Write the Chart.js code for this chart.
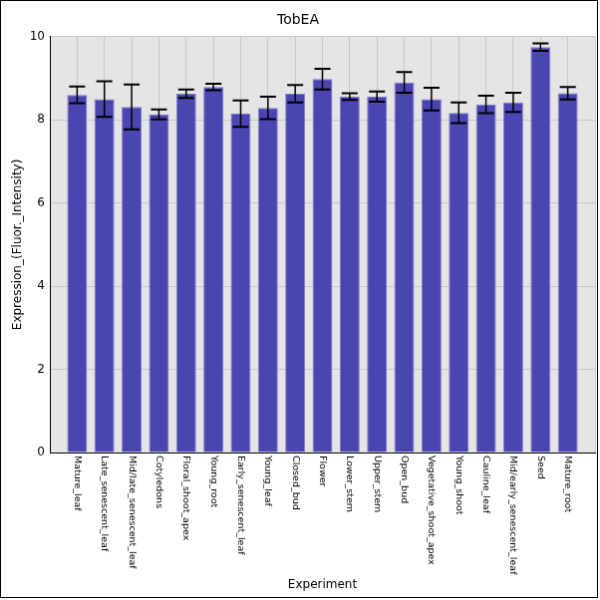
<!DOCTYPE html>
<html>
<head>
<meta charset="utf-8">
<script src="https://cdn.jsdelivr.net/npm/chart.js@4"></script>
<style>
  body { margin: 0; background: #fff; }
  canvas { border: 1px solid #000; display: block; }
</style>
</head>
<body>
<canvas id="tobChart" width="598" height="598"></canvas>
<script>
// data
const experiments = ['Mature_leaf', 'Late_senescent_leaf', 'Mid/late_senescent_leaf', 'Cotyledons',
  'Floral_shoot_apex', 'Young_root', 'Early_senescent_leaf', 'Young_leaf', 'Closed_bud', 'Flower',
  'Lower_stem', 'Upper_stem', 'Open_bud', 'Vegetative_shoot_apex', 'Young_shoot', 'Cauline_leaf',
  'Mid/early_senescent_leaf', 'Seed', 'Mature_root'];
const expression = [8.60, 8.50, 8.31, 8.13, 8.63, 8.79, 8.15, 8.29, 8.63, 8.98,
  8.56, 8.56, 8.90, 8.50, 8.17, 8.37, 8.42, 9.75, 8.64];
const errors = [0.20, 0.43, 0.54, 0.12, 0.10, 0.08, 0.32, 0.27, 0.21, 0.25,
  0.08, 0.12, 0.25, 0.27, 0.25, 0.21, 0.23, 0.09, 0.15];
const yTicks = [0, 2, 4, 6, 8, 10];

// one empty slot on each side, like the original plot
const labels = [''].concat(experiments, ['']);
const values = [null].concat(expression, [null]);

const plotBackground = {
  id: 'plotBackground',
  beforeDraw(chart) {
    const a = chart.chartArea, ctx = chart.ctx;
    ctx.save();
    ctx.fillStyle = '#e5e5e5';
    ctx.fillRect(a.left, a.top, a.right - a.left, a.bottom - a.top);
    ctx.restore();
  }
};

const errorBars = {
  id: 'errorBars',
  afterDatasetsDraw(chart) {
    const ctx = chart.ctx, y = chart.scales.y;
    const bars = chart.getDatasetMeta(0).data;
    ctx.save();
    ctx.strokeStyle = '#000';
    expression.forEach((v, i) => {
      const x = bars[i + 1].x;
      const top = y.getPixelForValue(v + errors[i]);
      const bot = y.getPixelForValue(v - errors[i]);
      ctx.lineWidth = 1.5;
      ctx.beginPath();
      ctx.moveTo(x, top); ctx.lineTo(x, bot);
      ctx.stroke();
      ctx.lineWidth = 2;
      ctx.beginPath();
      ctx.moveTo(x - 8, top); ctx.lineTo(x + 8, top);
      ctx.moveTo(x - 8, bot); ctx.lineTo(x + 8, bot);
      ctx.stroke();
    });
    ctx.restore();
  }
};

// category names read downwards (rotated clockwise)
const downLabels = {
  id: 'downLabels',
  afterDraw(chart) {
    const ctx = chart.ctx, xs = chart.scales.x;
    ctx.save();
    ctx.fillStyle = '#000';
    ctx.font = '9.5px "DejaVu Sans"';
    ctx.textAlign = 'left';
    ctx.textBaseline = 'middle';
    experiments.forEach((name, i) => {
      ctx.save();
      ctx.translate(xs.getPixelForTick(i + 1), xs.top + 3);
      ctx.rotate(Math.PI / 2);
      ctx.fillText(name, 0, 0);
      ctx.restore();
    });
    ctx.restore();
  }
};

new Chart(document.getElementById('tobChart'), {
  type: 'bar',
  data: {
    labels: labels,
    datasets: [{
      data: values,
      backgroundColor: '#4b45b2',
      borderColor: '#7f7bc9',
      borderWidth: 1,
      barPercentage: 0.73,
      categoryPercentage: 1
    }]
  },
  options: {
    responsive: false,
    animation: false,
    layout: { padding: { left: 0, right: 2, top: 0, bottom: 0 } },
    plugins: {
      legend: { display: false },
      tooltip: { enabled: false },
      title: {
        display: true,
        text: 'TobEA',
        color: '#000',
        font: { family: 'DejaVu Sans', size: 14, weight: 'normal' },
        padding: { top: 11, bottom: 8 }
      }
    },
    scales: {
      x: {
        offset: false,
        grid: { offset: false, color: '#c8c8c8', drawTicks: false },
        border: { display: true, color: '#000', width: 1 },
        ticks: { display: false },
        afterFit(scale) { scale.height = 145; },
        title: {
          display: true,
          text: 'Experiment',
          color: '#000',
          font: { family: 'DejaVu Sans', size: 12 },
          padding: { top: 4, bottom: 5 }
        }
      },
      y: {
        min: 0,
        max: 10,
        afterBuildTicks(scale) { scale.ticks = yTicks.map(v => ({ value: v })); },
        grid: { color: '#c8c8c8', drawTicks: false },
        border: { display: true, color: '#000', width: 1 },
        ticks: {
          color: '#000',
          padding: 5,
          font: { family: 'DejaVu Sans', size: 12 }
        },
        afterFit(scale) { scale.width = 49; },
        title: {
          display: true,
          text: 'Expression_(Fluor._Intensity)',
          color: '#000',
          font: { family: 'DejaVu Sans', size: 12 },
          padding: { top: 10, bottom: 0 }
        }
      }
    }
  },
  plugins: [plotBackground, errorBars, downLabels]
});
</script>
</body>
</html>
